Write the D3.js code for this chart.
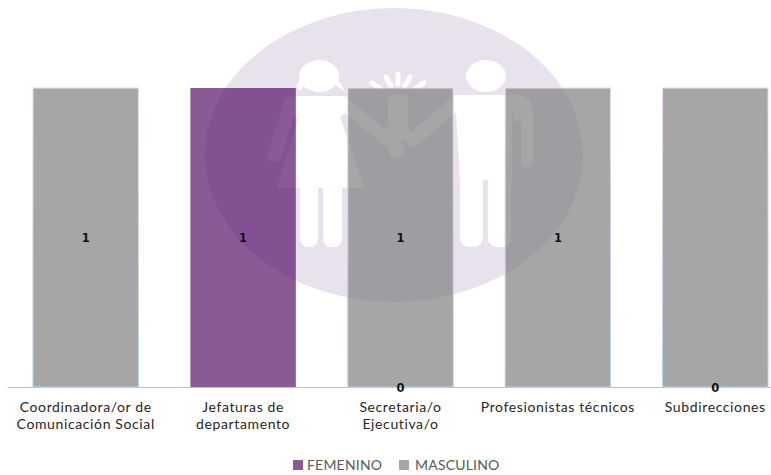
<!DOCTYPE html>
<html>
<head>
<meta charset="utf-8">
<script src="https://cdnjs.cloudflare.com/ajax/libs/d3/7.8.5/d3.min.js"></script>
<style>
html, body { margin: 0; padding: 0; background: #fff; }
svg { display: block; }
text { font-family: Lato, sans-serif; }
.tick text { font-size: 14px; letter-spacing: 0.62px; fill: #262626; }
.valuelabel { font-family: "DejaVu Sans", sans-serif; font-size: 11.5px; font-weight: bold; fill: #111; text-anchor: middle; }
.legendlabel { font-size: 14px; letter-spacing: 0.2px; fill: #595959; }
</style>
</head>
<body>
<div id="chart"></div>
<script>
var width = 771,
    height = 475;

var categories = ["Coordinadora/or de|Comunicación Social", "Jefaturas de|departamento", "Secretaria/o|Ejecutiva/o", "Profesionistas técnicos", "Subdirecciones"];
var femenino = [0, 1, 0, 0, 0];
var masculino = [1, 0, 1, 1, 1];
// what the data labels say, null = no label
var femeninoLabels = [null, 1, 0, null, 0];
var masculinoLabels = [1, null, 1, 1, null];
var seriesNames = ["FEMENINO", "MASCULINO"];
var seriesColors = ["#8a5a96", "#a6a6a6"];
// same colours at 70% so the watermark shows through the bars
var barColors = ["#581369", "#808080"];

var svg = d3.select("#chart")
    .append("svg")
    .attr("width", width)
    .attr("height", height);

var defs = svg.append("defs");
var grad = defs.append("linearGradient")
    .attr("id", "barEdge")
    .attr("x1", 0).attr("x2", 0).attr("y1", 0).attr("y2", 1);
grad.append("stop").attr("offset", "0%").attr("stop-color", "#f0dcec");
grad.append("stop").attr("offset", "50%").attr("stop-color", "#cfd0e6");
grad.append("stop").attr("offset", "100%").attr("stop-color", "#b5d3ea");

// WATERMARK
var mark = svg.append("g");
var markColor = "#e8e2ed";

mark.append("ellipse")
    .attr("cx", 394).attr("cy", 155)
    .attr("rx", 189).attr("ry", 147)
    .style("fill", markColor);

var figures = mark.append("g").style("fill", "#fff").style("stroke", "none");

// woman
figures.append("ellipse").attr("cx", 319).attr("cy", 76).attr("rx", 20).attr("ry", 16);
figures.append("path").attr("d", "M296,86 L301,78 L305,84 L300,91 Z M342,86 L337,78 L333,84 L345,91 Z");
figures.append("path").attr("d", "M293,96 L345,96 L348,110 L340,117 L365,188 L277,188 L298,120 L292,112 Z");
figures.append("rect").attr("x", 300).attr("y", 180).attr("width", 18).attr("height", 67).attr("rx", 8);
figures.append("rect").attr("x", 323).attr("y", 180).attr("width", 19).attr("height", 67).attr("rx", 8);
figures.append("line").attr("x1", 291).attr("y1", 104).attr("x2", 274).attr("y2", 155)
    .style("stroke", "#fff").style("stroke-width", 14).style("stroke-linecap", "round");
figures.append("line").attr("x1", 343).attr("y1", 103).attr("x2", 389).attr("y2", 141)
    .style("stroke", "#fff").style("stroke-width", 13).style("stroke-linecap", "round");

// man
figures.append("ellipse").attr("cx", 486).attr("cy", 76).attr("rx", 20).attr("ry", 16);
figures.append("path").attr("d", "M455,95 L512,95 L512,180 L460,180 Z");
figures.append("rect").attr("x", 460).attr("y", 160).attr("width", 23).attr("height", 87).attr("rx", 9);
figures.append("rect").attr("x", 488).attr("y", 160).attr("width", 23).attr("height", 87).attr("rx", 9);
figures.append("path").attr("d", "M510,95 L518,95 Q533,97 533,112 L533,163 Q527,172 521,163 L521,122 L514,120 Z");
figures.append("line").attr("x1", 456).attr("y1", 103).attr("x2", 413).attr("y2", 140)
    .style("stroke", "#fff").style("stroke-width", 14).style("stroke-linecap", "round");

// joined hands + rays
figures.append("rect").attr("x", 388).attr("y", 95).attr("width", 20).attr("height", 45).attr("rx", 6);
figures.append("ellipse").attr("cx", 397).attr("cy", 132).attr("rx", 13).attr("ry", 10);
figures.append("circle").attr("cx", 397).attr("cy", 150).attr("r", 8);
[[398, 74, 398, 84], [386, 77, 391, 86], [410, 77, 405, 86], [372, 83, 380, 88], [424, 83, 416, 88]].forEach(function (r) {
    figures.append("line")
        .attr("x1", r[0]).attr("y1", r[1]).attr("x2", r[2]).attr("y2", r[3])
        .style("stroke", "#fff").style("stroke-width", 5).style("stroke-linecap", "round");
});

// SCALES
var x = d3.scaleBand()
    .domain(categories)
    .range([7, 794])
    .paddingInner(0.33)
    .paddingOuter(0.165);

var y = d3.scaleLinear()
    .domain([0, 1])
    .range([387, 88]);

// AXIS
var axis = d3.axisBottom(x).tickSize(0).tickPadding(0).tickFormat("");
var axisG = svg.append("g")
    .attr("transform", "translate(0,387)")
    .call(axis);
axisG.select(".domain").style("stroke", "#bfbfbf").style("stroke-width", 1);

axisG.selectAll(".tick text").each(function (d) {
    var t = d3.select(this).attr("y", 0).attr("dy", null);
    d.split("|").forEach(function (line, i) {
        t.append("tspan")
            .attr("x", 0)
            .attr("y", 25 + i * 17)
            .text(line);
    });
});

// STACK
var rows = categories.map(function (c, i) {
    return { cat: c, FEMENINO: femenino[i], MASCULINO: masculino[i] };
});
var stacked = d3.stack().keys(seriesNames)(rows);

var bars = svg.append("g");

stacked.forEach(function (layer, s) {
    bars.selectAll(".bar" + s)
        .data(layer.filter(function (d) { return d[1] > d[0]; }))
        .enter()
        .append("rect")
        .attr("class", "bar" + s)
        .attr("x", function (d) { return x(d.data.cat); })
        .attr("y", function (d) { return y(d[1]); })
        .attr("width", x.bandwidth())
        .attr("height", function (d) { return y(d[0]) - y(d[1]); })
        .style("fill", barColors[s])
        .style("fill-opacity", 0.7)
        .style("stroke", s === 1 ? "url(#barEdge)" : "none")
        .style("stroke-width", 1);
});

// DATA LABELS
categories.forEach(function (c, i) {
    if (masculinoLabels[i] !== null || femeninoLabels[i] === 1) {
        var v = masculinoLabels[i] !== null ? masculinoLabels[i] : femeninoLabels[i];
        svg.append("text")
            .attr("class", "valuelabel")
            .attr("x", x(c) + x.bandwidth() / 2)
            .attr("y", y(0.5) + 4)
            .text(v);
    }
    if (femeninoLabels[i] === 0) {
        svg.append("text")
            .attr("class", "valuelabel")
            .attr("x", x(c) + x.bandwidth() / 2)
            .attr("y", y(0) + 5)
            .text(femeninoLabels[i]);
    }
});

// LEGEND
var legendX = [293, 399];
seriesNames.forEach(function (name, i) {
    var g = svg.append("g").attr("transform", "translate(" + legendX[i] + ",0)");
    g.append("rect")
        .attr("x", 0).attr("y", 460)
        .attr("width", 10).attr("height", 10)
        .style("fill", seriesColors[i]);
    g.append("text")
        .attr("class", "legendlabel")
        .attr("x", i === 0 ? 14 : 16)
        .attr("y", 470)
        .text(name);
});
</script>
</body>
</html>
